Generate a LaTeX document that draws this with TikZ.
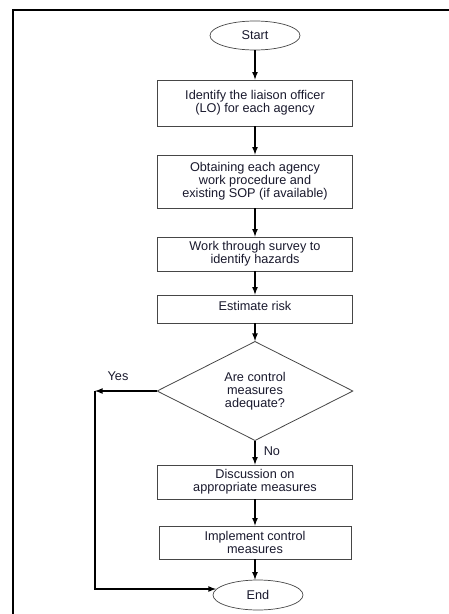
\documentclass[tikz,border=0pt]{standalone}
\usepackage{fontspec}
\setmainfont{Liberation Sans}
\usepackage{tikz}
\usetikzlibrary{arrows, shapes.geometric}
\usepackage{xcolor}
\definecolor{boxline}{RGB}{70,70,70}
\definecolor{boxtext}{RGB}{25,25,45}

\begin{document}
\begin{tikzpicture}[
    x=1pt, y=-1pt,
    every node/.style={font=\fontsize{12.7}{13}\selectfont, text=boxtext, align=center, inner sep=0pt},
    procbox/.style={draw=boxline, line width=0.8pt, rectangle, minimum width=195pt},
    termnode/.style={draw=boxline, line width=0.7pt, ellipse, minimum width=90pt, minimum height=29pt},
    decnode/.style={draw=boxline, line width=0.8pt, diamond, minimum width=196pt, minimum height=92pt},
    flowarrow/.style={-latex, black, line width=1.6pt}
    ]
    \useasboundingbox (0,0) rectangle (449,614);

    % Frame
    \draw[black, line width=1.3pt] (13,620) -- (13,10) -- (455,10);

    % Steps
    \node[termnode] (start) at (255,35.5) {Start};
    \node[procbox, minimum height=46pt] (liaison) at (255,103) {Identify the liaison officer\\(LO) for each agency};
    \node[procbox, minimum height=53pt] (sop) at (255,181.5) {Obtaining each agency\\work procedure and\\existing SOP (if available)};
    \node[procbox, minimum height=34pt] (hazards) at (255,254) {Work through survey to\\identify hazards};
    \node[procbox, minimum height=28pt, text depth=6pt] (risk) at (255,309) {Estimate risk};
    \node[decnode] (adequate) at (255,391) {Are control\\measures\\adequate?};
    \node[procbox, minimum height=34pt] (discuss) at (255,482) {Discussion on\\appropriate measures};
    \node[procbox, minimum height=33pt, minimum width=192pt] (implement) at (255,542.5) {Implement control\\measures};
    \node[termnode, minimum height=30pt] (end) at (258,595) {End};

    % Main flow
    \draw[flowarrow] (start) -- (liaison);
    \draw[flowarrow] (liaison) -- (sop);
    \draw[flowarrow] (sop) -- (hazards);
    \draw[flowarrow] (hazards) -- (risk);
    \draw[flowarrow] (risk) -- (adequate);
    \draw[flowarrow] (adequate) -- (discuss) node[pos=0.45, right=8pt] {No};
    \draw[flowarrow] (discuss) -- (implement);
    \draw[flowarrow] (implement.south) -- (implement.south |- end.north);

    % Yes branch
    \coordinate (yescorner) at (95,391);
    \coordinate (yesbottom) at (95,589);
    \coordinate (endentry) at (216,589);
    \draw[flowarrow] (adequate.west) -- (yescorner);
    \draw[flowarrow] (yescorner) -- (yesbottom) -- (endentry);
    \node (yes) at (118,376) {Yes};
\end{tikzpicture}
\end{document}
